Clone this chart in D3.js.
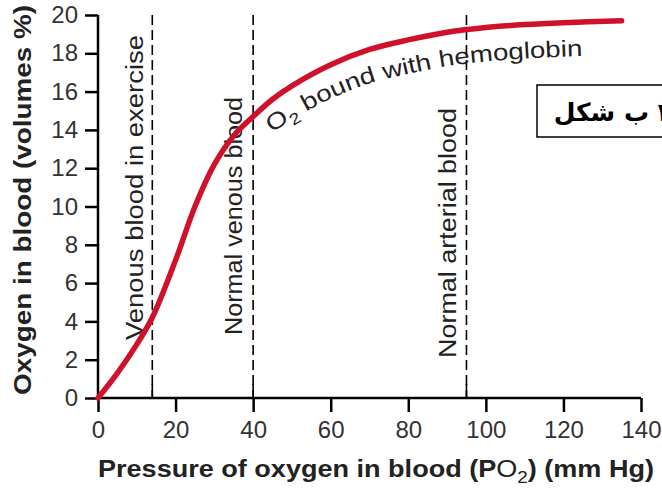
<!DOCTYPE html>
<html>
<head>
<meta charset="utf-8">
<script src="https://cdn.jsdelivr.net/npm/d3@7"></script>
<style>
  body { margin: 0; background: #fff; }
  svg { display: block; }
</style>
</head>
<body>
<script>
// pressure of oxygen (mm Hg) and oxygen content (volumes %)
const pressure = [0, 5, 10, 14, 20, 25, 30, 35, 40, 45, 50, 60, 70, 80, 90, 100, 110, 120, 135];
const oxygen = [0, 1.3, 2.8, 4.2, 7.2, 10.0, 12.2, 13.7, 14.7, 15.6, 16.3, 17.4, 18.2, 18.7, 19.1, 19.35, 19.5, 19.6, 19.7];

const xTicks = [0, 20, 40, 60, 80, 100, 120, 140];
const yTicks = [0, 2, 4, 6, 8, 10, 12, 14, 16, 18, 20];

// dashed reference lines
const refPressure = [14, 40, 95];
const refLabels = ["Venous blood in exercise", "Normal venous blood", "Normal arterial blood"];

const w = 662;
const h = 489;

const svg = d3.select("body").append("svg").attr("width", w).attr("height", h);

const x = d3.scaleLinear().domain([0, 140]).range([98, 641]);
const y = d3.scaleLinear().domain([0, 20]).range([398, 15]);

const font = "'Liberation Sans', Arial, sans-serif";

// x axis
const gx = svg.append("g")
  .attr("transform", "translate(0,398)")
  .call(d3.axisBottom(x).tickValues(xTicks).tickSize(14).tickPadding(9).tickSizeOuter(0));

// y axis
const gy = svg.append("g")
  .attr("transform", "translate(98,0)")
  .call(d3.axisLeft(y).tickValues(yTicks).tickSize(13).tickPadding(7).tickSizeOuter(0));

[gx, gy].forEach((g) => {
  g.select(".domain").attr("stroke", "#000").attr("stroke-width", 2.5);
  g.selectAll(".tick line").attr("stroke", "#000").attr("stroke-width", 2.5);
  g.selectAll(".tick text")
    .attr("font-family", font)
    .attr("font-size", "24px")
    .attr("fill", "#333");
});
gx.select(".domain").attr("d", "M" + x(0) + ",0H" + x(140));
gy.select(".domain").attr("d", "M0," + y(0) + "V" + y(20));

// dashed lines with a small solid foot on the axis
svg.selectAll(".ref")
  .data(refPressure)
  .enter()
  .append("line")
  .attr("x1", (d) => x(d))
  .attr("x2", (d) => x(d))
  .attr("y1", y(20))
  .attr("y2", y(0))
  .attr("stroke", "#000")
  .attr("stroke-width", 1.6)
  .attr("stroke-dasharray", "10,5");

svg.selectAll(".foot")
  .data(refPressure)
  .enter()
  .append("line")
  .attr("x1", (d) => x(d))
  .attr("x2", (d) => x(d))
  .attr("y1", y(0) - 14)
  .attr("y2", y(0))
  .attr("stroke", "#000")
  .attr("stroke-width", 1.6);

// vertical labels beside dashed lines
const labelPos = [
  { dx: -9, y0: 340, len: 305 },
  { dx: -11, y0: 335, len: 238 },
  { dx: -10, y0: 358, len: 250 }
];
svg.selectAll(".reflabel")
  .data(refPressure)
  .enter()
  .append("text")
  .attr("transform", (d, i) => "translate(" + (x(d) + labelPos[i].dx) + "," + labelPos[i].y0 + ") rotate(-90)")
  .attr("font-family", font)
  .attr("font-size", "23px")
  .attr("fill", "#222")
  .attr("textLength", (d, i) => labelPos[i].len)
  .attr("lengthAdjust", "spacingAndGlyphs")
  .text((d, i) => refLabels[i]);

// saturation curve
const curveData = pressure.map((p, i) => ({ p: p, v: oxygen[i] }));

const line = d3.line()
  .x((d) => x(d.p))
  .y((d) => y(d.v))
  .curve(d3.curveCatmullRom);

svg.append("path")
  .datum(curveData)
  .attr("d", line)
  .attr("fill", "none")
  .attr("stroke", "#d0112b")
  .attr("stroke-width", 5.5)
  .attr("stroke-linecap", "round");

// text following the curve
const textLine = d3.line()
  .x((d) => x(d.p))
  .y((d) => y(d.v) + 34)
  .curve(d3.curveCatmullRom);

svg.append("path")
  .datum(curveData.filter((d) => d.p >= 40))
  .attr("id", "o2path")
  .attr("d", textLine)
  .attr("fill", "none");

const tp = svg.append("text")
  .attr("font-family", font)
  .attr("font-size", "23px")
  .attr("fill", "#222")
  .append("textPath")
  .attr("href", "#o2path")
  .attr("startOffset", 26)
  .attr("textLength", 325)
  .attr("lengthAdjust", "spacingAndGlyphs");
tp.append("tspan").text("O");
tp.append("tspan").attr("font-size", "16px").attr("dy", 6).text("2");
tp.append("tspan").attr("dy", -6).text(" bound with hemoglobin");

// axis titles
svg.append("text")
  .attr("transform", "translate(31,200) rotate(-90)")
  .attr("text-anchor", "middle")
  .attr("font-family", font)
  .attr("font-weight", "bold")
  .attr("font-size", "23px")
  .attr("fill", "#222")
  .attr("textLength", 390)
  .attr("lengthAdjust", "spacingAndGlyphs")
  .text("Oxygen in blood (volumes %)");

const xt = svg.append("text")
  .attr("x", 376)
  .attr("y", 477)
  .attr("text-anchor", "middle")
  .attr("font-family", font)
  .attr("font-weight", "bold")
  .attr("font-size", "23px")
  .attr("fill", "#222")
  .attr("textLength", 556)
  .attr("lengthAdjust", "spacingAndGlyphs");
xt.append("tspan").text("Pressure of oxygen in blood (P");
xt.append("tspan").attr("font-weight", "normal").text("O");
xt.append("tspan").attr("font-weight", "normal").attr("font-size", "16px").attr("dy", 6).text("2");
xt.append("tspan").attr("dy", -6).text(") (mm Hg)");

// caption box
svg.append("rect")
  .attr("x", 537)
  .attr("y", 85)
  .attr("width", 140)
  .attr("height", 52)
  .attr("fill", "#fff")
  .attr("stroke", "#000")
  .attr("stroke-width", 1.5);

svg.append("text")
  .attr("x", 673)
  .attr("y", 121)
  .attr("direction", "rtl")
  .attr("text-anchor", "start")
  .attr("font-family", "'DejaVu Sans', sans-serif")
  .attr("font-weight", "bold")
  .attr("font-size", "25px")
  .attr("fill", "#000")
  .text("۲ ب شکل");
</script>
</body>
</html>
